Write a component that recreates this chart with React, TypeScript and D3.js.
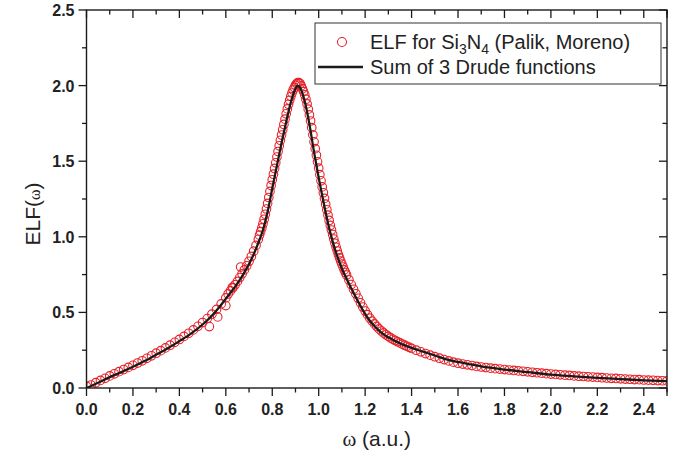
import React from "react";
import * as d3 from "d3";

// Sum of 3 Drude functions (black line) : [omega, ELF]
const drudeFit: [number, number][] = [
  [0, 0], [0.05, 0.035], [0.1, 0.072], [0.15, 0.105], [0.2, 0.14], [0.25, 0.178],
  [0.3, 0.22], [0.35, 0.263], [0.4, 0.31], [0.45, 0.36], [0.5, 0.42], [0.55, 0.495],
  [0.6, 0.59], [0.62, 0.63], [0.64, 0.67], [0.66, 0.715], [0.68, 0.765], [0.7, 0.82],
  [0.72, 0.885], [0.74, 0.96], [0.76, 1.045], [0.78, 1.165], [0.8, 1.32], [0.82, 1.47],
  [0.84, 1.62], [0.86, 1.76], [0.88, 1.89], [0.9, 1.98], [0.91, 2.0], [0.92, 1.985],
  [0.94, 1.895], [0.96, 1.745], [0.98, 1.56], [1.0, 1.39], [1.02, 1.235], [1.04, 1.09],
  [1.06, 0.97], [1.08, 0.87], [1.1, 0.79], [1.12, 0.722], [1.14, 0.66], [1.16, 0.6],
  [1.18, 0.542], [1.2, 0.49], [1.22, 0.445], [1.24, 0.41], [1.26, 0.38], [1.28, 0.355],
  [1.3, 0.335], [1.35, 0.295], [1.4, 0.265], [1.45, 0.24], [1.5, 0.215], [1.55, 0.19],
  [1.6, 0.172], [1.65, 0.157], [1.7, 0.143], [1.8, 0.122], [1.9, 0.105], [2.0, 0.088],
  [2.1, 0.077], [2.2, 0.067], [2.3, 0.059], [2.4, 0.051], [2.5, 0.045],
];

// ELF for Si3N4 (Palik) : [omega, ELF]
const palikData: [number, number][] = [
  [0.0, 0.012], [0.02, 0.02], [0.04, 0.035], [0.06, 0.05], [0.08, 0.064], [0.1, 0.08],
  [0.12, 0.094], [0.14, 0.108], [0.16, 0.122], [0.18, 0.136], [0.2, 0.15], [0.22, 0.165],
  [0.24, 0.18], [0.26, 0.196], [0.28, 0.213], [0.3, 0.23], [0.32, 0.247], [0.34, 0.265],
  [0.36, 0.283], [0.38, 0.302], [0.4, 0.321], [0.42, 0.341], [0.44, 0.362], [0.46, 0.384],
  [0.48, 0.408], [0.5, 0.433], [0.52, 0.459], [0.54, 0.488], [0.56, 0.52], [0.58, 0.556],
  [0.6, 0.596], [0.61, 0.622], [0.62, 0.642], [0.63, 0.662], [0.64, 0.683], [0.65, 0.705],
  [0.66, 0.73], [0.67, 0.755], [0.68, 0.781], [0.69, 0.808], [0.7, 0.838], [0.71, 0.87],
  [0.72, 0.905], [0.73, 0.943], [0.74, 0.983],
  [0.745, 1.011], [0.75, 1.034], [0.755, 1.059], [0.76, 1.086], [0.765, 1.116], [0.77, 1.149],
  [0.775, 1.184], [0.78, 1.221], [0.785, 1.26], [0.79, 1.3], [0.795, 1.339], [0.8, 1.377],
  [0.805, 1.414], [0.81, 1.452], [0.815, 1.489], [0.82, 1.527], [0.825, 1.564], [0.83, 1.602],
  [0.835, 1.638], [0.84, 1.673], [0.845, 1.708], [0.85, 1.743], [0.855, 1.778], [0.86, 1.813],
  [0.865, 1.846], [0.87, 1.876], [0.875, 1.903], [0.88, 1.928], [0.885, 1.951], [0.89, 1.971],
  [0.895, 1.987], [0.9, 2.003], [0.905, 2.013], [0.91, 2.02], [0.915, 2.02], [0.92, 2.012],
  [0.925, 1.998], [0.93, 1.978], [0.935, 1.96], [0.94, 1.938], [0.945, 1.91], [0.95, 1.879],
  [0.955, 1.844], [0.96, 1.806], [0.965, 1.766], [0.97, 1.722], [0.975, 1.674], [0.98, 1.628],
  [0.985, 1.583], [0.99, 1.539], [0.995, 1.496], [1.0, 1.454], [1.005, 1.411], [1.01, 1.37],
  [1.015, 1.33], [1.02, 1.291], [1.025, 1.254], [1.03, 1.216], [1.035, 1.179], [1.04, 1.143],
  [1.045, 1.108], [1.05, 1.075], [1.055, 1.045], [1.06, 1.015], [1.065, 0.985], [1.07, 0.957],
  [1.075, 0.931], [1.08, 0.906], [1.085, 0.882], [1.09, 0.86], [1.095, 0.839], [1.1, 0.819],
  [1.105, 0.8], [1.11, 0.781], [1.115, 0.764], [1.12, 0.747],
  [1.13, 0.716], [1.14, 0.684], [1.15, 0.653], [1.16, 0.623], [1.17, 0.593], [1.18, 0.563],
  [1.19, 0.535], [1.2, 0.509], [1.21, 0.485], [1.22, 0.462], [1.23, 0.442], [1.24, 0.424],
  [1.25, 0.407], [1.26, 0.391], [1.27, 0.377], [1.28, 0.364], [1.29, 0.352], [1.3, 0.341],
  [1.31, 0.331], [1.32, 0.322], [1.33, 0.314], [1.34, 0.306], [1.35, 0.298], [1.36, 0.29],
  [1.37, 0.283], [1.38, 0.276], [1.39, 0.269], [1.4, 0.262],
  [1.42, 0.25], [1.44, 0.239], [1.46, 0.228], [1.48, 0.217], [1.5, 0.207], [1.52, 0.197],
  [1.54, 0.188], [1.56, 0.179], [1.58, 0.171], [1.6, 0.164], [1.62, 0.158], [1.64, 0.153],
  [1.66, 0.148], [1.68, 0.143], [1.7, 0.139], [1.72, 0.135], [1.74, 0.131], [1.76, 0.128],
  [1.78, 0.125], [1.8, 0.122], [1.82, 0.119], [1.84, 0.116], [1.86, 0.113], [1.88, 0.11],
  [1.9, 0.107], [1.92, 0.104], [1.94, 0.101], [1.96, 0.098], [1.98, 0.095], [2.0, 0.092],
  [2.02, 0.09], [2.04, 0.087], [2.06, 0.085], [2.08, 0.083], [2.1, 0.08], [2.12, 0.078],
  [2.14, 0.076], [2.16, 0.074], [2.18, 0.072], [2.2, 0.07], [2.22, 0.068], [2.24, 0.066],
  [2.26, 0.064], [2.28, 0.063], [2.3, 0.061], [2.32, 0.059], [2.34, 0.058], [2.36, 0.056],
  [2.38, 0.055], [2.4, 0.053], [2.42, 0.052], [2.44, 0.051], [2.46, 0.049], [2.48, 0.048],
  [2.5, 0.047],
];

// ELF for Si3N4 (Moreno) : [omega, ELF]
const morenoData: [number, number][] = [
  [0.529, 0.406], [0.565, 0.47], [0.6, 0.545], [0.628, 0.665], [0.664, 0.8],
];

const xMajorTicks = [0, 0.2, 0.4, 0.6, 0.8, 1.0, 1.2, 1.4, 1.6, 1.8, 2.0, 2.2, 2.4];
const xMinorTicks = [0.1, 0.3, 0.5, 0.7, 0.9, 1.1, 1.3, 1.5, 1.7, 1.9, 2.1, 2.3, 2.5];
const yMajorTicks = [0, 0.5, 1.0, 1.5, 2.0, 2.5];
const yMinorTicks = [0.25, 0.75, 1.25, 1.75, 2.25];

const W = 680;
const H = 459;
const L = 86.5, R = 667, T = 10, B = 388;
const RED = "#e62129";
const FONT = "Liberation Sans, Arial, Helvetica, sans-serif";
const SERIF = "Liberation Serif, Times New Roman, serif";

export default function App() {
  const x = d3.scaleLinear().domain([0, 2.5]).range([L, R]);
  const y = d3.scaleLinear().domain([0, 2.5]).range([B, T]);
  const line = d3
    .line<[number, number]>()
    .x((d) => x(d[0]))
    .y((d) => y(d[1]))
    .curve(d3.curveMonotoneX);

  const majorLen = 8;
  const minorLen = 4.5;
  const axisStroke = "#1a1a1a";

  return (
    <svg
      width={W}
      height={H}
      viewBox={`0 0 ${W} ${H}`}
      style={{ position: "absolute", left: 0, top: 0, background: "#fff" }}
    >
      <defs>
        <clipPath id="plotClip">
          <rect x={L} y={T} width={R - L} height={B - T} />
        </clipPath>
      </defs>
      <rect x={0} y={0} width={W} height={H} fill="#fff" />

      {/* data */}
      <g clipPath="url(#plotClip)">
        {palikData.map((d, i) => (
          <circle key={"p" + i} cx={x(d[0])} cy={y(d[1])} r={4.3} fill="none" stroke={RED} strokeWidth={1.1} />
        ))}
        {morenoData.map((d, i) => (
          <circle key={"m" + i} cx={x(d[0])} cy={y(d[1])} r={4.3} fill="none" stroke={RED} strokeWidth={1.1} />
        ))}
        <path d={line(drudeFit) || ""} fill="none" stroke="#1a1a1a" strokeWidth={2.3} />
      </g>

      {/* frame */}
      <rect x={L} y={T} width={R - L} height={B - T} fill="none" stroke={axisStroke} strokeWidth={1.4} />

      {/* bottom / top ticks */}
      {xMajorTicks.concat([2.5]).map((t) => (
        <g key={"xm" + t}>
          <line x1={x(t)} x2={x(t)} y1={B} y2={B + majorLen} stroke={axisStroke} strokeWidth={1.3} />
          <line x1={x(t)} x2={x(t)} y1={T} y2={T + majorLen} stroke={axisStroke} strokeWidth={1.3} />
        </g>
      ))}
      {xMinorTicks.map((t) => (
        <g key={"xn" + t}>
          <line x1={x(t)} x2={x(t)} y1={B} y2={B + minorLen} stroke={axisStroke} strokeWidth={1.3} />
          <line x1={x(t)} x2={x(t)} y1={T} y2={T + minorLen} stroke={axisStroke} strokeWidth={1.3} />
        </g>
      ))}
      {xMajorTicks.map((t) => (
        <text
          key={"xl" + t}
          x={x(t)}
          y={B + 27}
          textAnchor="middle"
          fontFamily={FONT}
          fontWeight="bold"
          fontSize={16}
          fill="#222"
        >
          {t.toFixed(1)}
        </text>
      ))}

      {/* left / right ticks */}
      {yMajorTicks.map((t) => (
        <g key={"ym" + t}>
          <line x1={L - majorLen} x2={L} y1={y(t)} y2={y(t)} stroke={axisStroke} strokeWidth={1.3} />
          <line x1={R - majorLen} x2={R} y1={y(t)} y2={y(t)} stroke={axisStroke} strokeWidth={1.3} />
          <text
            x={L - 12}
            y={y(t) + 6}
            textAnchor="end"
            fontFamily={FONT}
            fontWeight="bold"
            fontSize={16}
            fill="#222"
          >
            {t.toFixed(1)}
          </text>
        </g>
      ))}
      {yMinorTicks.map((t) => (
        <g key={"yn" + t}>
          <line x1={L - minorLen} x2={L} y1={y(t)} y2={y(t)} stroke={axisStroke} strokeWidth={1.3} />
          <line x1={R - minorLen} x2={R} y1={y(t)} y2={y(t)} stroke={axisStroke} strokeWidth={1.3} />
        </g>
      ))}

      {/* axis titles */}
      <text x={(L + R) / 2} y={446} textAnchor="middle" fontFamily={FONT} fontSize={21} fill="#222">
        <tspan fontFamily={SERIF}>ω</tspan> (a.u.)
      </text>
      <text
        transform={`translate(40, ${(T + B) / 2 + 15}) rotate(-90)`}
        textAnchor="middle"
        fontFamily={FONT}
        fontSize={21}
        fill="#222"
      >
        ELF(<tspan fontFamily={SERIF} fontSize={16}>ω</tspan>)
      </text>

      {/* legend */}
      <rect x={315} y={23} width={346} height={61} fill="#fff" stroke="#333" strokeWidth={1} />
      <circle cx={342} cy={42} r={4.5} fill="none" stroke={RED} strokeWidth={1.1} />
      <text x={370} y={49} fontFamily={FONT} fontSize={20} fill="#222">
        ELF for Si<tspan fontSize={14} dy={5}>3</tspan>
        <tspan dy={-5}>N</tspan>
        <tspan fontSize={14} dy={5}>4</tspan>
        <tspan dy={-5}> (Palik, Moreno)</tspan>
      </text>
      <line x1={318} x2={363} y1={67} y2={67} stroke="#1a1a1a" strokeWidth={2.3} />
      <text x={370} y={74} fontFamily={FONT} fontSize={20} fill="#222">
        Sum of 3 Drude functions
      </text>
    </svg>
  );
}
